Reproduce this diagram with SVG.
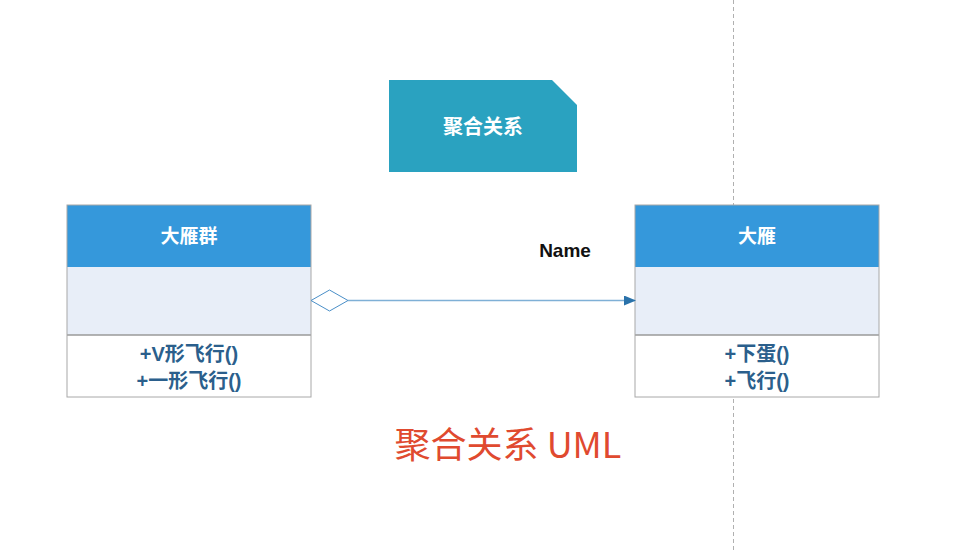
<svg xmlns="http://www.w3.org/2000/svg" width="956" height="552" viewBox="0 0 956 552">
<style>
.hdr{fill:#3598db}
.attr{fill:#e8eef8}
.meth{fill:#ffffff}
.sep{stroke:#9a9a9a;stroke-width:1.5}
.border{fill:none;stroke:#a8a8a8;stroke-width:1}
.title{font-family:"Noto Sans CJK SC","Liberation Sans",sans-serif;font-size:19px;font-weight:bold;fill:#ffffff;text-anchor:middle}
.m{font-family:"Liberation Sans","Noto Sans CJK SC",sans-serif;font-size:20px;font-weight:bold;fill:#2b5f8c;text-anchor:middle}
</style>
<defs>
<marker id="arr" markerWidth="12" markerHeight="10" refX="11" refY="5" orient="auto" markerUnits="userSpaceOnUse">
<path d="M0,0 L12,5 L0,10 Z" fill="#2a72aa"/>
</marker>
</defs>
<rect width="956" height="552" fill="#ffffff"/>
<line x1="733.5" y1="0" x2="733.5" y2="552" stroke="#b0b0b0" stroke-width="1" stroke-dasharray="4,3"/>
<g id="note">
<path d="M389,80 L552,80 L577,105 L577,172 L389,172 Z" fill="#2aa2c0"/>
<text x="483" y="134" class="title" style="font-size:20px">聚合关系</text>
</g>
<g id="class-flock">
<rect x="67" y="205" width="244" height="62" class="hdr"/>
<rect x="67" y="267" width="244" height="68" class="attr"/>
<rect x="67" y="335" width="244" height="62" class="meth"/>
<line x1="67" y1="335" x2="311" y2="335" class="sep"/>
<rect x="67" y="205" width="244" height="192" class="border"/>
<text x="189" y="243" class="title">大雁群</text>
<text x="189" y="361" class="m">+V形飞行()</text>
<text x="189" y="388" class="m">+一形飞行()</text>
</g>
<g id="class-goose">
<rect x="635" y="205" width="244" height="62" class="hdr"/>
<rect x="635" y="267" width="244" height="68" class="attr"/>
<rect x="635" y="335" width="244" height="62" class="meth"/>
<line x1="635" y1="335" x2="879" y2="335" class="sep"/>
<rect x="635" y="205" width="244" height="192" class="border"/>
<text x="757" y="243" class="title">大雁</text>
<text x="757" y="361" class="m">+下蛋()</text>
<text x="757" y="388" class="m">+飞行()</text>
</g>
<g id="connectors">
<path d="M311,300.5 L329.5,290 L348,300.5 L329.5,311 Z" fill="#ffffff" stroke="#4a8fc8" stroke-width="1"/>
<line x1="348" y1="300.5" x2="635" y2="300.5" stroke="#7fb0d6" stroke-width="1.5" marker-end="url(#arr)"/>
<text x="565" y="257" font-family="'Liberation Sans',sans-serif" font-size="19" font-weight="bold" fill="#111111" text-anchor="middle">Name</text>
</g>
<text x="508" y="458" font-family="'Noto Sans CJK SC','Liberation Sans',sans-serif" font-size="36" fill="#e04a2f" text-anchor="middle">聚合关系 UML</text>
</svg>
